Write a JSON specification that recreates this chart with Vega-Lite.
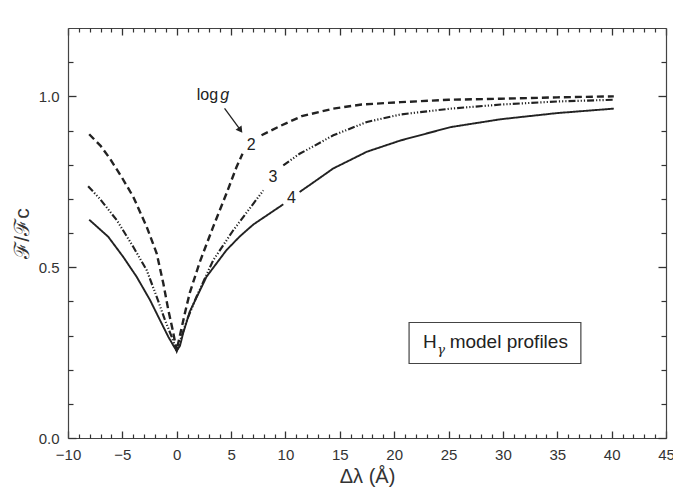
{
  "$schema": "https://vega.github.io/schema/vega-lite/v6.json",
  "width": 598,
  "height": 410,
  "autosize": {"type": "none"},
  "padding": {"left": 68, "top": 28, "right": 7, "bottom": 60},
  "background": "white",
  "config": {
    "view": {"stroke": null},
    "axis": {
      "grid": false,
      "labelFont": "Liberation Sans",
      "labelFontSize": 15,
      "labelColor": "#333",
      "domainColor": "#444",
      "domainWidth": 1.2,
      "titleFont": "Liberation Sans",
      "titleFontWeight": "normal",
      "titleColor": "#333",
      "labelFlush": false,
      "labelOverlap": false
    }
  },
  "datasets": {
    "curves": [
      {"g": "2", "seg": "a", "x": -8.05, "y": 0.889},
      {"g": "2", "seg": "a", "x": -7.0, "y": 0.855},
      {"g": "2", "seg": "a", "x": -6.15, "y": 0.818},
      {"g": "2", "seg": "a", "x": -5.07, "y": 0.764},
      {"g": "2", "seg": "a", "x": -4.0, "y": 0.706},
      {"g": "2", "seg": "a", "x": -2.76, "y": 0.618},
      {"g": "2", "seg": "a", "x": -1.84, "y": 0.54},
      {"g": "2", "seg": "a", "x": -1.23, "y": 0.452},
      {"g": "2", "seg": "a", "x": -0.77, "y": 0.374},
      {"g": "2", "seg": "a", "x": -0.37, "y": 0.316},
      {"g": "2", "seg": "a", "x": -0.12, "y": 0.275},
      {"g": "2", "seg": "a", "x": 0.0, "y": 0.255},
      {"g": "2", "seg": "a", "x": 0.12, "y": 0.275},
      {"g": "2", "seg": "a", "x": 0.4, "y": 0.315},
      {"g": "2", "seg": "a", "x": 0.8, "y": 0.372},
      {"g": "2", "seg": "a", "x": 1.2, "y": 0.425},
      {"g": "2", "seg": "a", "x": 2.12, "y": 0.515},
      {"g": "2", "seg": "a", "x": 3.35, "y": 0.618},
      {"g": "2", "seg": "a", "x": 4.58, "y": 0.716},
      {"g": "2", "seg": "a", "x": 5.5, "y": 0.793},
      {"g": "2", "seg": "a", "x": 6.05, "y": 0.832},
      {"g": "2", "seg": "b", "x": 7.8, "y": 0.886},
      {"g": "2", "seg": "b", "x": 9.5, "y": 0.913},
      {"g": "2", "seg": "b", "x": 11.5, "y": 0.942},
      {"g": "2", "seg": "b", "x": 14.4, "y": 0.964},
      {"g": "2", "seg": "b", "x": 17.0, "y": 0.976},
      {"g": "2", "seg": "b", "x": 20.6, "y": 0.983},
      {"g": "2", "seg": "b", "x": 25.0, "y": 0.99},
      {"g": "2", "seg": "b", "x": 29.8, "y": 0.993},
      {"g": "2", "seg": "b", "x": 35.0, "y": 0.997},
      {"g": "2", "seg": "b", "x": 40.2, "y": 1.0},
      {"g": "3", "seg": "a", "x": -8.15, "y": 0.737},
      {"g": "3", "seg": "a", "x": -7.07, "y": 0.7},
      {"g": "3", "seg": "a", "x": -5.5, "y": 0.637},
      {"g": "3", "seg": "a", "x": -3.99, "y": 0.559},
      {"g": "3", "seg": "a", "x": -2.76, "y": 0.491},
      {"g": "3", "seg": "a", "x": -1.84, "y": 0.413},
      {"g": "3", "seg": "a", "x": -1.08, "y": 0.345},
      {"g": "3", "seg": "a", "x": -0.46, "y": 0.296},
      {"g": "3", "seg": "a", "x": 0.0, "y": 0.255},
      {"g": "3", "seg": "a", "x": 0.5, "y": 0.303},
      {"g": "3", "seg": "a", "x": 1.0, "y": 0.35},
      {"g": "3", "seg": "a", "x": 1.81, "y": 0.413},
      {"g": "3", "seg": "a", "x": 3.35, "y": 0.52},
      {"g": "3", "seg": "a", "x": 5.2, "y": 0.608},
      {"g": "3", "seg": "a", "x": 7.05, "y": 0.686},
      {"g": "3", "seg": "a", "x": 7.97, "y": 0.725},
      {"g": "3", "seg": "b", "x": 9.8, "y": 0.798},
      {"g": "3", "seg": "b", "x": 11.3, "y": 0.832},
      {"g": "3", "seg": "b", "x": 12.3, "y": 0.849},
      {"g": "3", "seg": "b", "x": 14.4, "y": 0.886},
      {"g": "3", "seg": "b", "x": 17.5, "y": 0.925},
      {"g": "3", "seg": "b", "x": 20.6, "y": 0.947},
      {"g": "3", "seg": "b", "x": 25.2, "y": 0.964},
      {"g": "3", "seg": "b", "x": 29.8, "y": 0.976},
      {"g": "3", "seg": "b", "x": 35.0, "y": 0.985},
      {"g": "3", "seg": "b", "x": 40.2, "y": 0.99},
      {"g": "4", "seg": "a", "x": -8.05, "y": 0.639},
      {"g": "4", "seg": "a", "x": -6.3, "y": 0.589},
      {"g": "4", "seg": "a", "x": -4.92, "y": 0.53},
      {"g": "4", "seg": "a", "x": -3.69, "y": 0.472},
      {"g": "4", "seg": "a", "x": -2.46, "y": 0.404},
      {"g": "4", "seg": "a", "x": -1.54, "y": 0.345},
      {"g": "4", "seg": "a", "x": -0.77, "y": 0.296},
      {"g": "4", "seg": "a", "x": -0.3, "y": 0.27},
      {"g": "4", "seg": "a", "x": 0.0, "y": 0.255},
      {"g": "4", "seg": "a", "x": 0.3, "y": 0.27},
      {"g": "4", "seg": "a", "x": 0.6, "y": 0.308},
      {"g": "4", "seg": "a", "x": 1.2, "y": 0.37},
      {"g": "4", "seg": "a", "x": 2.74, "y": 0.472},
      {"g": "4", "seg": "a", "x": 4.58, "y": 0.55},
      {"g": "4", "seg": "a", "x": 5.8, "y": 0.59},
      {"g": "4", "seg": "a", "x": 7.05, "y": 0.625},
      {"g": "4", "seg": "a", "x": 9.8, "y": 0.684},
      {"g": "4", "seg": "b", "x": 11.3, "y": 0.72},
      {"g": "4", "seg": "b", "x": 12.3, "y": 0.742},
      {"g": "4", "seg": "b", "x": 14.4, "y": 0.789},
      {"g": "4", "seg": "b", "x": 17.5, "y": 0.838},
      {"g": "4", "seg": "b", "x": 20.6, "y": 0.871},
      {"g": "4", "seg": "b", "x": 25.2, "y": 0.91},
      {"g": "4", "seg": "b", "x": 29.8, "y": 0.933},
      {"g": "4", "seg": "b", "x": 35.0, "y": 0.951},
      {"g": "4", "seg": "b", "x": 40.2, "y": 0.964}
    ],
    "nums": [
      {"t": "2", "x": 6.85, "y": 0.857},
      {"t": "3", "x": 8.86, "y": 0.764},
      {"t": "4", "x": 10.55, "y": 0.701}
    ]
  },
  "resolve": {"axis": {"x": "independent", "y": "independent"}},
  "layer": [
    {
      "data": {"name": "curves"},
      "mark": {"type": "line", "color": "#222", "strokeCap": "butt"},
      "encoding": {
        "x": {
          "field": "x", "type": "quantitative",
          "scale": {"domain": [-10, 45], "nice": false, "zero": false},
          "axis": {
            "orient": "bottom",
            "values": [-10, -5, 0, 5, 10, 15, 20, 25, 30, 35, 40, 45],
            "ticks": true,
            "tickSize": 7,
            "tickColor": "#333",
            "tickWidth": 1.3,
            "offset": -7,
            "domain": false,
            "labelPadding": 9,
            "title": "Δλ (Å)",
            "titleFontSize": 20,
            "titlePadding": 4
          }
        },
        "y": {
          "field": "y", "type": "quantitative",
          "scale": {"domain": [0, 1.2], "nice": false, "zero": false},
          "axis": {
            "orient": "left",
            "values": [0, 0.5, 1.0],
            "format": ".1f",
            "ticks": true,
            "tickSize": 8,
            "tickColor": "#333",
            "tickWidth": 1.3,
            "offset": -8,
            "domain": false,
            "labelPadding": 9,
            "title": "ℱ/ℱc",
            "titleFontSize": 21,
            "titlePadding": 6
          }
        },
        "detail": {"field": "seg", "type": "nominal"},
        "strokeDash": {
          "field": "g", "type": "nominal", "legend": null,
          "scale": {"domain": ["2", "3", "4"], "range": [[7, 4], [7, 2, 1.2, 2, 1.2, 2, 1.2, 2], [1, 0]]}
        },
        "strokeWidth": {
          "field": "g", "type": "nominal", "legend": null,
          "scale": {"domain": ["2", "3", "4"], "range": [2.4, 1.9, 1.4]}
        }
      }
    },
    {
      "data": {"name": "curves"},
      "mark": {"type": "point", "opacity": 0},
      "encoding": {
        "x": {"field": "x", "type": "quantitative", "axis": {
          "orient": "bottom", "values": [-10, 45], "ticks": false, "labels": false, "domain": true, "title": null}},
        "y": {"field": "y", "type": "quantitative", "axis": {
          "orient": "left", "values": [0, 1.2], "ticks": false, "labels": false, "domain": true, "title": null}}
      }
    },
    {
      "data": {"name": "curves"},
      "mark": {"type": "point", "opacity": 0},
      "encoding": {
        "x": {"field": "x", "type": "quantitative", "axis": {
          "orient": "bottom", "values": [-9,-8,-7,-6,-4,-3,-2,-1,1,2,3,4,6,7,8,9,11,12,13,14,16,17,18,19,21,22,23,24,26,27,28,29,31,32,33,34,36,37,38,39,41,42,43,44],
          "ticks": true, "tickColor": "#333", "tickWidth": 1.2,
          "offset": -4, "tickSize": 4, "labels": false, "domain": false, "title": null}},
        "y": {"field": "y", "type": "quantitative", "axis": {
          "orient": "left", "values": [0.1, 0.2, 0.3, 0.4, 0.6, 0.7, 0.8, 0.9, 1.1],
          "ticks": true, "tickColor": "#333", "tickWidth": 1.2,
          "offset": -5, "tickSize": 5, "labels": false, "domain": false, "title": null}}
      }
    },
    {
      "data": {"name": "curves"},
      "mark": {"type": "point", "opacity": 0},
      "encoding": {
        "x": {"field": "x", "type": "quantitative", "axis": {
          "orient": "top", "values": [-10, 45], "ticks": false, "labels": false, "domain": true, "title": null}},
        "y": {"field": "y", "type": "quantitative", "axis": {
          "orient": "right", "values": [0, 1.2], "ticks": false, "labels": false, "domain": true, "title": null}}
      }
    },
    {
      "data": {"name": "curves"},
      "mark": {"type": "point", "opacity": 0},
      "encoding": {
        "x": {"field": "x", "type": "quantitative", "axis": {
          "orient": "top", "values": [-10, -5, 0, 5, 10, 15, 20, 25, 30, 35, 40, 45],
          "ticks": true, "tickColor": "#333", "tickWidth": 1.3,
          "offset": -7, "tickSize": 7, "labels": false, "domain": false, "title": null}},
        "y": {"field": "y", "type": "quantitative", "axis": {
          "orient": "right", "values": [0, 0.5, 1.0],
          "ticks": true, "tickColor": "#333", "tickWidth": 1.3,
          "offset": -8, "tickSize": 8, "labels": false, "domain": false, "title": null}}
      }
    },
    {
      "data": {"name": "curves"},
      "mark": {"type": "point", "opacity": 0},
      "encoding": {
        "x": {"field": "x", "type": "quantitative", "axis": {
          "orient": "top", "values": [-9,-8,-7,-6,-4,-3,-2,-1,1,2,3,4,6,7,8,9,11,12,13,14,16,17,18,19,21,22,23,24,26,27,28,29,31,32,33,34,36,37,38,39,41,42,43,44],
          "ticks": true, "tickColor": "#333", "tickWidth": 1.2,
          "offset": -4, "tickSize": 4, "labels": false, "domain": false, "title": null}},
        "y": {"field": "y", "type": "quantitative", "axis": {
          "orient": "right", "values": [0.1, 0.2, 0.3, 0.4, 0.6, 0.7, 0.8, 0.9, 1.1],
          "ticks": true, "tickColor": "#333", "tickWidth": 1.2,
          "offset": -5, "tickSize": 5, "labels": false, "domain": false, "title": null}}
      }
    },
    {
      "data": {"name": "nums"},
      "mark": {"type": "text", "font": "Liberation Sans", "fontSize": 16, "color": "#222", "align": "center", "baseline": "middle"},
      "encoding": {
        "x": {"field": "x", "type": "quantitative", "axis": null},
        "y": {"field": "y", "type": "quantitative", "axis": null},
        "text": {"field": "t"}
      }
    },
    {
      "data": {"values": [{"t": "log", "x": 1.84, "y": 0.988}]},
      "mark": {"type": "text", "font": "Liberation Sans", "fontSize": 16, "color": "#222", "align": "left", "baseline": "alphabetic"},
      "encoding": {
        "x": {"field": "x", "type": "quantitative", "axis": null},
        "y": {"field": "y", "type": "quantitative", "axis": null},
        "text": {"field": "t"}
      }
    },
    {
      "data": {"values": [{"t": "g", "x": 4.0, "y": 0.988}]},
      "mark": {"type": "text", "font": "Liberation Sans", "fontSize": 16, "fontStyle": "italic", "color": "#222", "align": "left", "baseline": "alphabetic"},
      "encoding": {
        "x": {"field": "x", "type": "quantitative", "axis": null},
        "y": {"field": "y", "type": "quantitative", "axis": null},
        "text": {"field": "t"}
      }
    },
    {
      "data": {"values": [{"x": 4.4, "y": 0.965, "x2": 5.75, "y2": 0.906}]},
      "mark": {"type": "rule", "color": "#222", "strokeWidth": 1.3},
      "encoding": {
        "x": {"field": "x", "type": "quantitative", "axis": null},
        "y": {"field": "y", "type": "quantitative", "axis": null},
        "x2": {"field": "x2"},
        "y2": {"field": "y2"}
      }
    },
    {
      "data": {"values": [{"x": 5.86, "y": 0.901}]},
      "mark": {"type": "point", "shape": "triangle-down", "filled": true, "color": "#222", "opacity": 1, "size": 55, "angle": 324},
      "encoding": {
        "x": {"field": "x", "type": "quantitative", "axis": null},
        "y": {"field": "y", "type": "quantitative", "axis": null}
      }
    },
    {
      "data": {"values": [{"x": 21.37, "x2": 37.17, "y": 0.218, "y2": 0.338}]},
      "mark": {"type": "rect", "fill": null, "fillOpacity": 0, "stroke": "#444", "strokeWidth": 1.2},
      "encoding": {
        "x": {"field": "x", "type": "quantitative", "axis": null},
        "x2": {"field": "x2"},
        "y": {"field": "y", "type": "quantitative", "axis": null},
        "y2": {"field": "y2"}
      }
    },
    {
      "data": {"values": [{"t": "H", "x": 22.66, "y": 0.262}, {"t": "model profiles", "x": 25.1, "y": 0.262}]},
      "mark": {"type": "text", "font": "Liberation Sans", "fontSize": 19, "color": "#222", "align": "left", "baseline": "alphabetic"},
      "encoding": {
        "x": {"field": "x", "type": "quantitative", "axis": null},
        "y": {"field": "y", "type": "quantitative", "axis": null},
        "text": {"field": "t"}
      }
    },
    {
      "data": {"values": [{"t": "γ", "x": 23.95, "y": 0.246}]},
      "mark": {"type": "text", "font": "DejaVu Serif", "fontStyle": "italic", "fontSize": 13, "color": "#222", "align": "left", "baseline": "alphabetic"},
      "encoding": {
        "x": {"field": "x", "type": "quantitative", "axis": null},
        "y": {"field": "y", "type": "quantitative", "axis": null},
        "text": {"field": "t"}
      }
    }
  ]
}
